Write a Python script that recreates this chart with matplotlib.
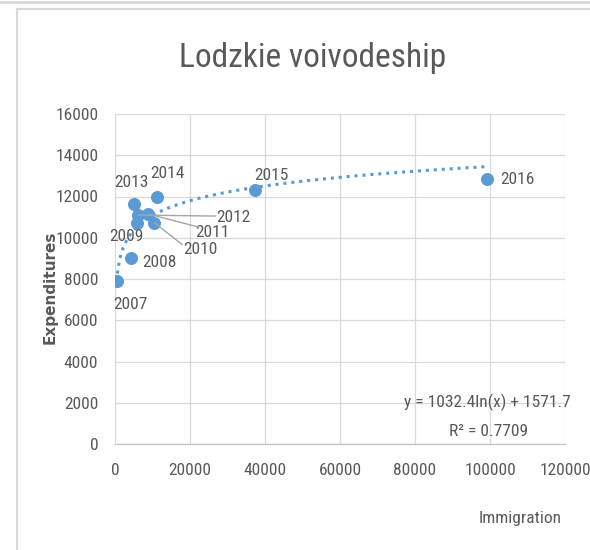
import numpy as np
import matplotlib
matplotlib.use("Agg")
import matplotlib.pyplot as plt
from matplotlib.lines import Line2D

plt.rcParams['font.family'] = ['Roboto Condensed', 'DejaVu Sans']
plt.rcParams['font.weight'] = 'normal'

years = ['2007', '2008', '2009', '2010', '2011', '2012', '2013', '2014', '2015', '2016']
immigration = [450, 4200, 5800, 10500, 8900, 6050, 5150, 11300, 37400, 99300]
expenditures = [7900, 9000, 10730, 10730, 11150, 11100, 11640, 11990, 12320, 12830]

# trendline coefficients (as shown in the chart)
coef_a = 1032.4
coef_b = 1571.7
r2 = 0.7709

# label offsets in pixels (dx right, dy down) relative to each point
label_offsets = {
    '2007': (14, 23), '2008': (29, 4), '2009': (-10, 14), '2010': (46, 27),
    '2011': (64, 18), '2012': (96, 2), '2013': (-3, -21), '2014': (10, -23),
    '2015': (16, -14), '2016': (30, 0),
}
leaders = {'2010': (28, 22), '2011': (50, 13), '2012': (78, 1)}

blue = '#5B9BD5'
grey_txt = '#595959'
grid_c = '#D9D9D9'

fig = plt.figure(figsize=(5.9, 5.5), dpi=100)
ax = fig.add_axes([115/590, 1-444/550, 450/590, 330/550])

ax.set_xlim(0, 120000)
ax.set_ylim(0, 16000)
ax.set_xticks(np.arange(0, 120001, 20000))
ax.set_yticks(np.arange(0, 16001, 2000))
ax.grid(True, color=grid_c, linewidth=0.9)
ax.set_axisbelow(True)
for s in ['top', 'right', 'left']:
    ax.spines[s].set_visible(False)
ax.spines['bottom'].set_color('#BFBFBF')
ax.tick_params(length=0, labelsize=12.5, labelcolor=grey_txt)
ax.tick_params(axis='x', pad=14)
ax.tick_params(axis='y', pad=12)

# log trendline
xs = np.linspace(min(immigration), max(immigration), 400)
ax.plot(xs, coef_a*np.log(xs) + coef_b, color=blue, linestyle=(0, (1, 1.6)), linewidth=2.2)

ax.scatter(immigration, expenditures, s=70, color=blue, zorder=3)

px = 72/100
for yr, xv, yv in zip(years, immigration, expenditures):
    dx, dy = label_offsets[yr]
    ax.annotate(yr, (xv, yv), xytext=(dx*px, -dy*px), textcoords='offset points',
                ha='center', va='center', fontsize=12.5, color=grey_txt)
    if yr in leaders:
        lx, ly = leaders[yr]
        ax.annotate('', (xv, yv), xytext=(lx*px, -ly*px), textcoords='offset points',
                    arrowprops=dict(arrowstyle='-', color='#A6A6A6', lw=1, shrinkA=0, shrinkB=0))

ax.text(0.828, 0.127, f'y = {coef_a}ln(x) + {coef_b}', transform=ax.transAxes,
        ha='center', va='center', fontsize=12.5, color=grey_txt)
ax.text(0.83, 0.039, 'R² = ' + str(r2), transform=ax.transAxes,
        ha='center', va='center', fontsize=12.5, color=grey_txt)

fig.text(313/590, 1-58/550, 'Lodzkie voivodeship', ha='center', va='center',
         fontsize=24, color=grey_txt)
fig.text(520/590, 1-518/550, 'Immigration', ha='center', va='center',
         fontsize=12.5, color=grey_txt)
fig.text(50/590, 1-287/550, 'Expenditures', ha='center', va='center', rotation=90,
         fontsize=11, fontweight='bold', color=grey_txt, family='DejaVu Sans')

# chart frame lines
fig.add_artist(Line2D([0, 1], [1-1.5/550, 1-1.5/550], color='#D9D9D9', lw=2))
fig.add_artist(Line2D([17/590, 1], [1-9/550, 1-9/550], color='#D9D9D9', lw=1.5))
fig.add_artist(Line2D([17/590, 17/590], [0, 1-9/550], color='#D9D9D9', lw=1.5))

fig.savefig('out.png', dpi=100)
